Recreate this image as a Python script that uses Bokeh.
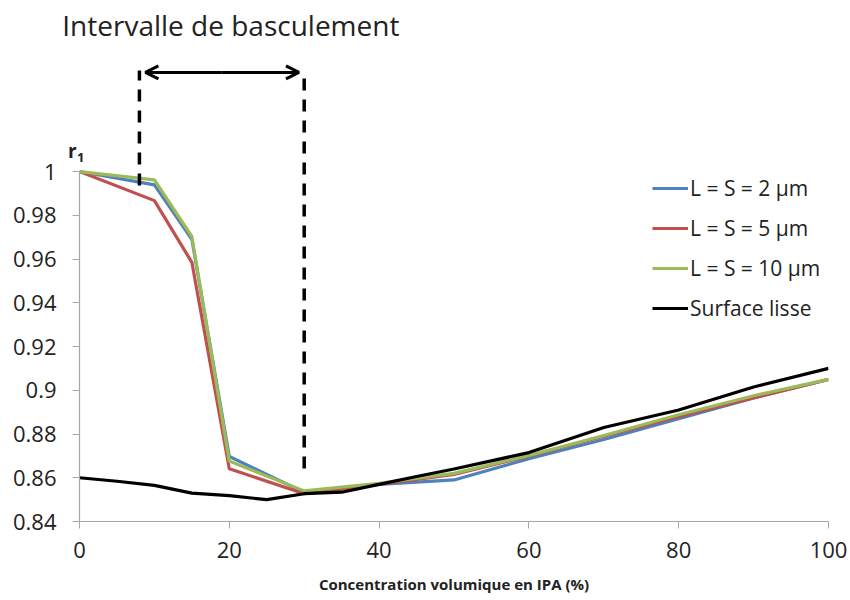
from bokeh.plotting import figure
from bokeh.models import (FixedTicker, Arrow, OpenHead, Legend, LegendItem)
from bokeh.core.properties import value
from bokeh.embed import file_html
from bokeh.resources import INLINE

# IPA volume concentration (%) and r1 values for each surface
x_struct = [0, 10, 15, 20, 30, 40, 50, 60, 70, 80, 90, 100]
r1_ls2 = [1.0, 0.9939, 0.969, 0.8697, 0.8533, 0.857, 0.859, 0.8687, 0.8775, 0.887, 0.8965, 0.905]
r1_ls5 = [1.0, 0.9867, 0.9585, 0.8641, 0.8527, 0.857, 0.8615, 0.870, 0.879, 0.888, 0.8965, 0.905]
r1_ls10 = [1.0, 0.9962, 0.9703, 0.8676, 0.854, 0.8575, 0.862, 0.8702, 0.8793, 0.8888, 0.8975, 0.905]

x_smooth = [0, 5, 10, 15, 20, 25, 30, 35, 40, 45, 50, 60, 70, 80, 90, 100]
r1_smooth = [0.860, 0.8584, 0.8565, 0.853, 0.8518, 0.850, 0.8527, 0.8534, 0.857, 0.8606,
             0.864, 0.8715, 0.883, 0.891, 0.9015, 0.910]

series_names = ["L = S = 2 \u00b5m", "L = S = 5 \u00b5m", "L = S = 10 \u00b5m", "Surface lisse"]
series_colors = ["#4F81BD", "#C0504D", "#9BBB59", "#000000"]

x_ticks = [0, 20, 40, 60, 80, 100]
y_ticks = [0.84, 0.86, 0.88, 0.90, 0.92, 0.94, 0.96, 0.98, 1.0]
y_tick_labels = ["0.84", "0.86", "0.88", "0.9", "0.92", "0.94", "0.96", "0.98", "1"]

# switching interval bounds (% IPA)
interval_lo, interval_hi = 8, 30

FONT = "Open Sans"
TXT = "#222222"

p = figure(width=850, height=600, output_backend="svg", toolbar_location=None,
           x_range=(0, 100), y_range=(0.84, 1.0782),
           min_border_left=79, min_border_right=22, min_border_top=0, min_border_bottom=79)
p.outline_line_color = None
p.grid.grid_line_color = None
p.background_fill_color = "white"
p.border_fill_color = "white"

# axes
p.xaxis.ticker = FixedTicker(ticks=x_ticks)
p.yaxis.ticker = FixedTicker(ticks=y_ticks)
p.yaxis.bounds = (0.84, 1.0)
p.yaxis.major_label_overrides = {t: s for t, s in zip(y_ticks, y_tick_labels)}
for ax in (p.xaxis, p.yaxis):
    ax.axis_line_color = "#A6A6A6"
    ax.axis_line_width = 1.2
    ax.major_tick_line_color = "#A6A6A6"
    ax.major_tick_in = 0
    ax.major_tick_out = 7
    ax.minor_tick_line_color = None
    ax.major_label_text_font = FONT
    ax.major_label_text_font_size = "22px"
    ax.major_label_text_color = TXT
p.yaxis.major_label_standoff = 16
p.xaxis.major_label_standoff = 13
p.xaxis.axis_label = "Concentration volumique en IPA (%)"
p.xaxis.axis_label_text_font = FONT
p.xaxis.axis_label_text_font_style = "bold"
p.xaxis.axis_label_text_font_size = "15px"
p.xaxis.axis_label_text_color = TXT
p.xaxis.axis_label_standoff = 13

# data lines
items = []
for xs, ys, name, col in zip([x_struct, x_struct, x_struct, x_smooth],
                             [r1_ls2, r1_ls5, r1_ls10, r1_smooth],
                             series_names, series_colors):
    r = p.line(xs, ys, line_color=col, line_width=3.2, line_join="round")
    items.append(LegendItem(label=name, renderers=[r]))

legend = Legend(items=items, location=(573, 199), orientation="vertical",
                label_text_font=FONT, label_text_font_size="21px",
                label_text_color=TXT, glyph_width=36, glyph_height=16,
                label_standoff=2, spacing=12, padding=0, margin=0,
                background_fill_alpha=0, border_line_color=None)
p.add_layout(legend)

# switching interval: dashed bounds and double arrow
p.line([interval_lo, interval_lo], [0.9936, 1.0462], line_color="black", line_width=3.5,
       line_dash="12 9")
p.line([interval_hi, interval_hi], [0.8642, 1.0462], line_color="black", line_width=3.5,
       line_dash="12 9")
for x_tip in (29.3, 8.8):
    p.add_layout(Arrow(x_start=19, y_start=1.0453, x_end=x_tip, y_end=1.0453,
                       line_width=3, line_color="black",
                       end=OpenHead(size=13, line_width=3, line_color="black")))

# texts drawn on the overlay level so they can reach into the left border
p.text(x=[-2.3], y=[1.0672], text=["Intervalle de basculement"],
       text_font=value(FONT), text_font_size="28px", text_color=TXT,
       text_baseline="middle", text_align="left", level="overlay")
p.text(x=[-1.55], y=[1.0093], text=["r"], text_font=value(FONT),
       text_font_style="bold", text_font_size="19px", text_color=TXT,
       text_baseline="middle", text_align="left", level="overlay")
p.text(x=[-0.35], y=[1.0062], text=["1"], text_font=value(FONT),
       text_font_style="bold", text_font_size="13px", text_color=TXT,
       text_baseline="middle", text_align="left", level="overlay")

open("out.html", "w").write(file_html(p, INLINE))
